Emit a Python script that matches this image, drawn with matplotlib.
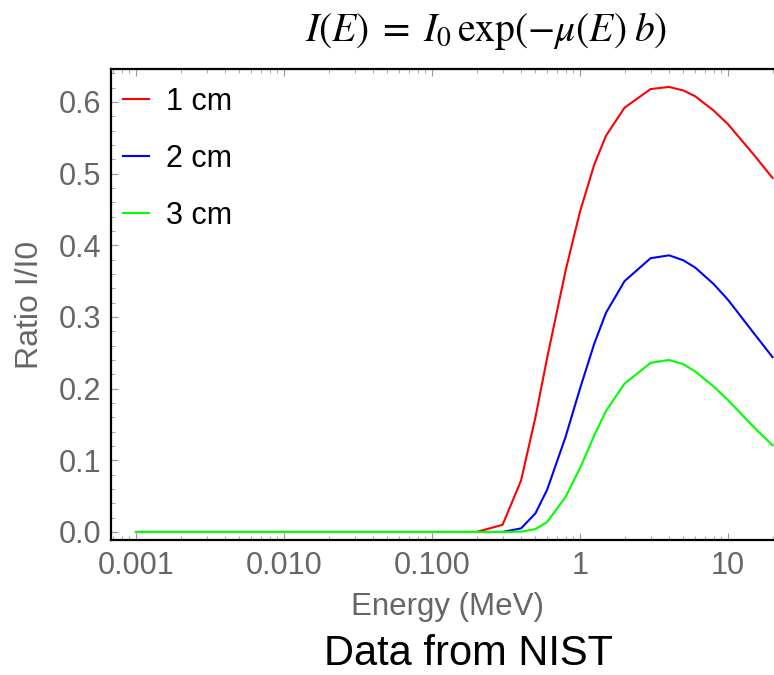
import numpy as np
import matplotlib
matplotlib.use('Agg')
import matplotlib.pyplot as plt
from matplotlib.ticker import LogLocator, MultipleLocator, NullFormatter

plt.rcParams['font.family'] = ['Liberation Sans', 'DejaVu Sans']
plt.rcParams['mathtext.fontset'] = 'stix'

# energies (MeV), NIST grid
energy = [0.001, 0.0015, 0.002, 0.003, 0.004, 0.005, 0.006, 0.008,
          0.01, 0.015, 0.02, 0.03, 0.04, 0.05, 0.06, 0.08,
          0.1, 0.15, 0.2, 0.3, 0.4, 0.5, 0.6, 0.8,
          1, 1.25, 1.5, 2, 3, 4, 5, 6, 8, 10, 15, 20]

zeros = [0.0] * 18
ratio_1cm = zeros + [0.0, 0.010, 0.072, 0.160, 0.243, 0.365,
                     0.447, 0.513, 0.553, 0.592, 0.618, 0.621, 0.616, 0.608,
                     0.588, 0.569, 0.526, 0.494]
ratio_2cm = zeros + [0.0, 0.0001, 0.005, 0.026, 0.059, 0.133,
                     0.200, 0.263, 0.306, 0.350, 0.382, 0.386, 0.379, 0.369,
                     0.346, 0.324, 0.277, 0.244]
ratio_3cm = zeros + [0.0, 0.0, 0.0004, 0.004, 0.014, 0.049,
                     0.089, 0.135, 0.169, 0.207, 0.236, 0.240, 0.234, 0.224,
                     0.203, 0.184, 0.146, 0.121]

xticks = [0.001, 0.01, 0.1, 1, 10]
xtick_labels = ['0.001', '0.010', '0.100', '1', '10']
yticks = [0.0, 0.1, 0.2, 0.3, 0.4, 0.5, 0.6]

fig = plt.figure(figsize=(7.74, 6.75), dpi=100)
ax = fig.add_axes([111/774, 135/675, 663/774, 471/675])

ax.plot(energy, ratio_1cm, color='#ff0000', lw=1.5, label='1 cm')
ax.plot(energy, ratio_2cm, color='#0000ff', lw=1.5, label='2 cm')
ax.plot(energy, ratio_3cm, color='#00ff00', lw=1.5, label='3 cm')

ax.set_xscale('log')
ax.set_xlim(10**-3.169, 10**1.311)
ax.set_ylim(-0.0112, 0.646)

ax.set_xticks(xticks, xtick_labels)
ax.xaxis.set_minor_locator(LogLocator(base=10, subs=np.arange(2, 10)))
ax.xaxis.set_minor_formatter(NullFormatter())
ax.set_yticks(yticks, [f'{v:.1f}' for v in yticks])
ax.yaxis.set_minor_locator(MultipleLocator(0.02))

for s in ['left', 'bottom', 'top']:
    ax.spines[s].set_linewidth(1.6)
    ax.spines[s].set_color('black')
ax.spines['right'].set_visible(False)

ax.tick_params(which='both', direction='in', color='#999999', top=True,
               labelsize=22, labelcolor='#666666')
ax.tick_params(which='major', length=5, width=0.8)
ax.tick_params(which='minor', length=3, width=0.6)
ax.tick_params(axis='x', pad=8)
ax.tick_params(axis='y', pad=7)

ax.legend(loc='upper left', bbox_to_anchor=(12/663, 1 - 18/471), frameon=False,
          fontsize=22, handlelength=0.85, handletextpad=0.55,
          labelspacing=0.88, borderpad=0, borderaxespad=0)

fig.text(30/774, 1 - 305/675, 'Ratio I/I0', rotation=90, fontsize=23,
         color='#666666', ha='center', va='center')
fig.text(448/774, 1 - 607/675, 'Energy (MeV)', fontsize=22.5,
         color='#666666', ha='center', va='center')
fig.text(469/774, 1 - 654/675, 'Data from NIST', fontsize=30,
         color='black', ha='center', va='center')
fig.text(486/774, 1 - 31/675, r'$I(E)\;=\;I_0\,\exp(-\mu(E)\;b)$', fontsize=28.5,
         color='black', ha='center', va='center')

fig.savefig('out.png', dpi=100)
